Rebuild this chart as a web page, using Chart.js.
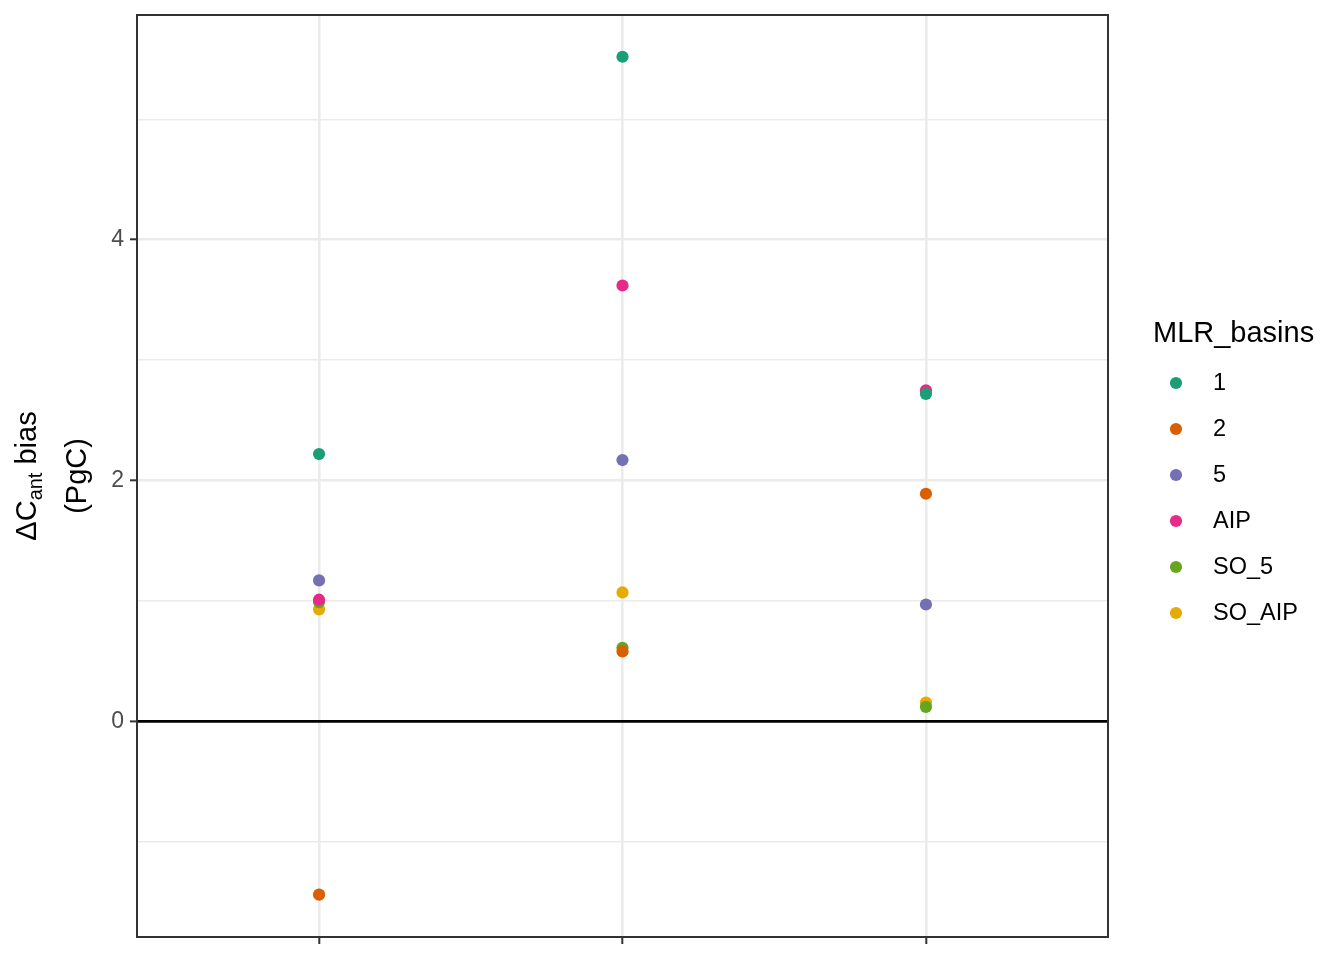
<!DOCTYPE html>
<html>
<head>
<meta charset="utf-8">
<script src="https://cdn.jsdelivr.net/npm/chart.js@4"></script>
<style>
  html, body { margin: 0; padding: 0; background: #ffffff; }
  #wrap { width: 1344px; height: 960px; position: relative; }
</style>
</head>
<body>
<div id="wrap"><canvas id="c" width="1344" height="960"></canvas></div>
<script>
// ---- data ----
const categories = ['', '', ''];           // x category labels (blank in the reference)
const categoryPositions = [1, 2, 3];
const seriesNames = ['1', '2', '5', 'AIP', 'SO_5', 'SO_AIP'];
const seriesColors = ['#1B9E77', '#D95F02', '#7570B3', '#E7298A', '#66A61E', '#E6AB02'];
const basin1 = [2.22, 5.52, 2.72];
const basin2 = [-1.44, 0.58, 1.89];
const basin5 = [1.17, 2.17, 0.97];
const basinAIP = [1.01, 3.62, 2.75];
const basinSO5 = [0.99, 0.61, 0.12];
const basinSOAIP = [0.93, 1.07, 0.155];
const yTickValues = [-1, 0, 1, 2, 3, 4, 5];
const yLabelValues = [0, 2, 4];
const yMin = -1.792, yMax = 5.867;
const xMin = 0.4, xMax = 3.6;
const legendTitle = 'MLR_basins';

const seriesValues = [basin1, basin2, basin5, basinAIP, basinSO5, basinSOAIP];

const POINT_R = 6.1;
const datasets = seriesNames.map((name, i) => ({
  label: name,
  data: seriesValues[i].map((v, j) => ({ x: categoryPositions[j], y: v })),
  backgroundColor: seriesColors[i],
  borderWidth: 0,
  pointRadius: POINT_R,
  pointHoverRadius: POINT_R,
  showLine: false
}));

const FONT = '"Liberation Sans", Arial, Helvetica, sans-serif';

const decorPlugin = {
  id: 'decor',
  afterDraw(chart) {
    const ctx = chart.ctx;
    const a = chart.chartArea;
    ctx.save();
    // panel border
    ctx.strokeStyle = '#333333';
    ctx.lineWidth = 2;
    ctx.strokeRect(a.left, a.top, a.right - a.left, a.bottom - a.top);

    // y axis title (rotated, two lines, subscript)
    const cy = (a.top + a.bottom) / 2;
    ctx.fillStyle = '#000000';
    ctx.textBaseline = 'alphabetic';
    ctx.textAlign = 'left';
    const big = '29px ' + FONT, small = '20px ' + FONT;
    ctx.font = big;
    const wMain = ctx.measureText('ΔC').width;
    const wBias = ctx.measureText(' bias').width;
    ctx.font = small;
    const wSub = ctx.measureText('ant').width;
    const total1 = wMain + wSub + wBias;
    ctx.save();
    ctx.translate(36, cy);
    ctx.rotate(-Math.PI / 2);
    let x0 = -total1 / 2;
    ctx.font = big;
    ctx.fillText('ΔC', x0, 0);
    ctx.font = small;
    ctx.fillText('ant', x0 + wMain, 6);
    ctx.font = big;
    ctx.fillText(' bias', x0 + wMain + wSub, 0);
    ctx.restore();
    ctx.save();
    ctx.translate(86, cy);
    ctx.rotate(-Math.PI / 2);
    ctx.font = big;
    ctx.textAlign = 'center';
    ctx.fillText('(PgC)', 0, 0);
    ctx.restore();

    // legend
    ctx.font = big;
    ctx.textAlign = 'left';
    ctx.textBaseline = 'alphabetic';
    ctx.fillText(legendTitle, 1153, 342);
    ctx.font = '23.5px ' + FONT;
    ctx.textBaseline = 'middle';
    chart.data.datasets.forEach((ds, i) => {
      const y = 383 + i * 46;
      ctx.fillStyle = ds.backgroundColor;
      ctx.beginPath();
      ctx.arc(1176, y, POINT_R, 0, Math.PI * 2);
      ctx.fill();
      ctx.fillStyle = '#000000';
      ctx.fillText(ds.label, 1213, y + 1);
    });
    ctx.restore();
  }
};

new Chart(document.getElementById('c'), {
  type: 'scatter',
  data: { datasets },
  options: {
    responsive: false,
    animation: false,
    devicePixelRatio: 1,
    events: [],
    layout: { padding: { top: 15, right: 236, bottom: 0, left: 0 } },
    plugins: { legend: { display: false }, tooltip: { enabled: false } },
    scales: {
      x: {
        type: 'linear',
        min: xMin, max: xMax,
        afterBuildTicks: (s) => { s.ticks = categoryPositions.map(v => ({ value: v })); },
        afterFit: (s) => { s.height = 23; s.paddingLeft = 0; s.paddingRight = 0; },
        border: { display: false },
        grid: {
          color: '#EBEBEB', lineWidth: 2.6,
          drawTicks: true, tickLength: 7, tickColor: '#333333', tickWidth: 2
        },
        ticks: {
          callback: (v) => { const i = categoryPositions.indexOf(v); return i >= 0 ? categories[i] : ''; },
          font: { size: 23, family: FONT }, color: '#4D4D4D', padding: 6
        }
      },
      y: {
        type: 'linear',
        min: yMin, max: yMax,
        afterBuildTicks: (s) => { s.ticks = yTickValues.map(v => ({ value: v })); },
        afterFit: (s) => { s.width = 137; s.paddingTop = 0; s.paddingBottom = 0; },
        border: { display: false },
        grid: {
          color: (c) => c.tick && c.tick.value === 0 ? '#000000' : '#EBEBEB',
          lineWidth: (c) => {
            if (!c.tick) return 1;
            if (c.tick.value === 0) return 2.8;
            return yLabelValues.includes(c.tick.value) ? 2.6 : 1.4;
          },
          drawTicks: true, tickLength: 7, tickWidth: 2,
          tickColor: (c) => c.tick && yLabelValues.includes(c.tick.value) ? '#333333' : 'rgba(0,0,0,0)'
        },
        ticks: {
          callback: (v) => yLabelValues.includes(v) ? String(v) : '',
          font: { size: 23, family: FONT }, color: '#4D4D4D', padding: 6
        }
      }
    }
  },
  plugins: [decorPlugin]
});
</script>
</body>
</html>
